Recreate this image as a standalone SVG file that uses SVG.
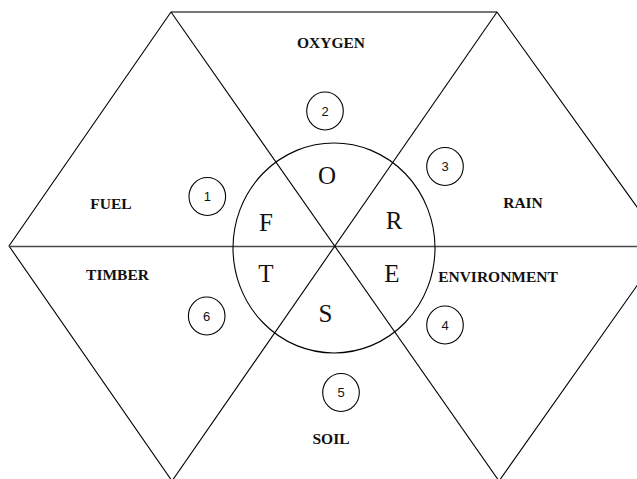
<svg xmlns="http://www.w3.org/2000/svg" width="637" height="479" viewBox="0 0 637 479">
<style>
.ln{stroke:#000;stroke-width:1.1;fill:none}
.hl{stroke:#4a4a4a;stroke-width:1.6;fill:none}
.lbl{font-family:"Liberation Serif","Times New Roman",serif;font-weight:bold;font-size:15.5px;fill:#111;text-anchor:middle}
.let{font-family:"Liberation Serif","Times New Roman",serif;font-size:25px;fill:#111;text-anchor:middle}
.num{font-family:"Liberation Sans",Arial,sans-serif;font-size:13px;fill:#111;text-anchor:middle}
.nc{stroke:#000;stroke-width:1.1;fill:none}
</style>
<rect width="637" height="479" fill="#fff"/>
<g id="connectors">
<polyline class="ln" points="172,481 9,246 171,12"/>
<line class="hl" x1="171" y1="12" x2="497" y2="12"/>
<polyline class="ln" points="497,12 665,246 499,481"/>
<line class="hl" x1="9" y1="246.5" x2="637" y2="246.5"/>
<line class="ln" x1="171" y1="12" x2="499" y2="481"/>
<line class="ln" x1="497" y1="12" x2="172" y2="481"/>
<ellipse class="ln" cx="334" cy="248" rx="101" ry="105"/>
</g>
<g id="letters">
<text class="let" x="327" y="184">O</text>
<text class="let" x="266" y="231">F</text>
<text class="let" x="394" y="229">R</text>
<text class="let" x="266" y="282">T</text>
<text class="let" x="392" y="282">E</text>
<text class="let" x="325.5" y="322">S</text>
</g>
<g id="fuel"><text class="lbl" x="111" y="209">FUEL</text></g>
<g id="oxygen"><text class="lbl" x="331" y="48">OXYGEN</text></g>
<g id="rain"><text class="lbl" x="523" y="208">RAIN</text></g>
<g id="timber"><text class="lbl" x="117.5" y="280">TIMBER</text></g>
<g id="environment"><text class="lbl" x="498" y="281.5">ENVIRONMENT</text></g>
<g id="soil"><text class="lbl" x="331" y="444">SOIL</text></g>
<g id="n1"><ellipse class="nc" cx="207.3" cy="196.5" rx="18.3" ry="19"/><text class="num" x="207.3" y="201.2">1</text></g>
<g id="n2"><ellipse class="nc" cx="325" cy="111" rx="18.3" ry="19"/><text class="num" x="325" y="115.7">2</text></g>
<g id="n3"><ellipse class="nc" cx="445" cy="166.5" rx="18.3" ry="19"/><text class="num" x="445" y="171.2">3</text></g>
<g id="n4"><ellipse class="nc" cx="445" cy="325" rx="18.3" ry="19"/><text class="num" x="445" y="329.7">4</text></g>
<g id="n5"><ellipse class="nc" cx="341" cy="392.5" rx="18.3" ry="19"/><text class="num" x="341" y="397.2">5</text></g>
<g id="n6"><ellipse class="nc" cx="206.7" cy="316" rx="18.3" ry="19"/><text class="num" x="206.7" y="320.7">6</text></g>
</svg>
